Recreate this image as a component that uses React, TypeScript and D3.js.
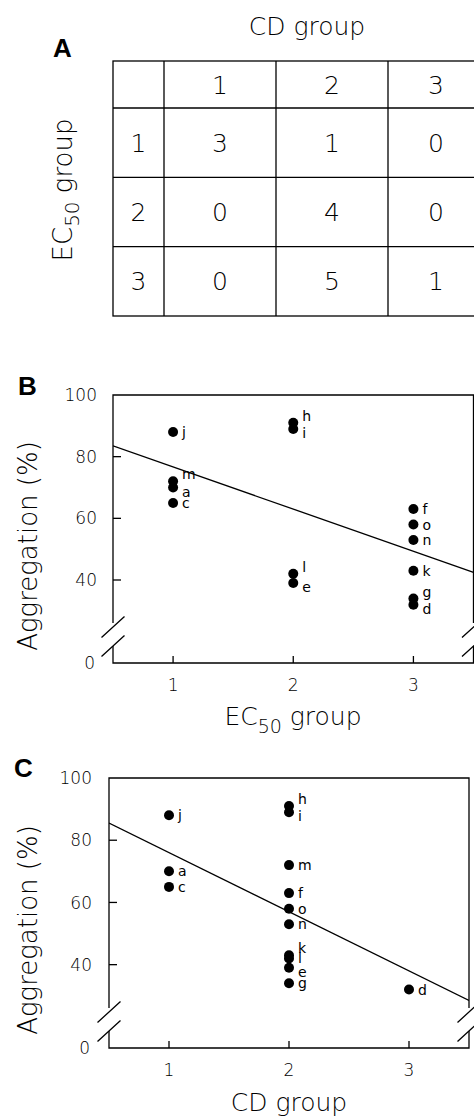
import React from 'react';
import * as d3 from 'd3';

// panel A: contingency table
const cdGroups = ['1', '2', '3'];
const ec50Groups = ['1', '2', '3'];
const counts = [
  [3, 1, 0],
  [0, 4, 0],
  [0, 5, 1],
];

// panels B and C: aggregation (%) per subject letter
const letters = ['a', 'c', 'd', 'e', 'f', 'g', 'h', 'i', 'j', 'k', 'l', 'm', 'n', 'o'];
const aggregation = [70, 65, 32, 39, 63, 34, 91, 89, 88, 43, 42, 72, 53, 58];
const ec50Group = [1, 1, 3, 2, 3, 3, 2, 2, 1, 3, 2, 1, 3, 3];
const cdGroup = [1, 1, 3, 2, 2, 2, 2, 2, 1, 2, 2, 2, 2, 2];

// fitted lines: [x, y] at both ends
const fitB = [[0.5, 83.5], [3.5, 42.5]];
const fitC = [[0.5, 85.5], [3.5, 28.5]];

const xTicks = [1, 2, 3];
const yTicks = [0, 40, 60, 80, 100];

const FONT = '"DejaVu Sans", sans-serif';
const LW = 1.3;

function Scatter({ top, left, right, bottom, groups, fit, title, tickRight }) {
  const x = d3.scaleLinear().domain([0.5, 3.5]).range([left, right]);
  const y = d3.scaleLinear().domain([0, 28, 100]).range([bottom, bottom - 46, top]);
  const pts = letters.map((l, i) => ({ l, g: groups[i], v: aggregation[i] }));
  // label nudges for dots that sit close together
  const shift = (p) => {
    const same = pts.filter((q) => q.g === p.g && q !== p);
    const above = same.some((q) => q.v > p.v && q.v - p.v < 4);
    const below = same.some((q) => q.v < p.v && p.v - q.v < 4);
    if (below && !above) return -7;
    if (above && !below) return 4;
    return 0;
  };
  const line = d3.line().x((d) => x(d[0])).y((d) => y(d[1]));
  const b1 = bottom - 36, b2 = bottom - 17;
  const slash = (cx, cy) => `M${cx - 11.5},${cy + 10.5}L${cx + 11.5},${cy - 10.5}`;
  const id = 'clip' + top;
  return (
    <g>
      <defs>
        <clipPath id={id}>
          <rect x={left} y={top} width={right - left} height={bottom - top} />
        </clipPath>
      </defs>
      <g stroke="#000" strokeWidth={LW} fill="none">
        <path d={`M${left},${b1 - 4}V${top}H${right}V${b1 - 4}`} />
        <path d={`M${left},${b2}V${bottom}H${right}V${b2}`} />
        <path d={slash(left, b1) + slash(left, b2) + slash(right, b1) + slash(right, b2)} />
        {yTicks.filter((t) => t > 0 && t < 100).map((t) => (
          <path key={t} d={`M${left},${y(t)}h8`} />
        ))}
        {xTicks.map((t) => (
          <path key={t} d={`M${x(t)},${bottom}v-7`} />
        ))}
        <path d={line(fit)} clipPath={`url(#${id})`} />
      </g>
      <g fontFamily={FONT} fontWeight={200} fontSize={17} textAnchor="end">
        {yTicks.map((t) => (
          <text key={t} x={t === 0 ? tickRight - 2 : tickRight} y={y(t)} dy="0.36em">{t}</text>
        ))}
      </g>
      <g fontFamily={FONT} fontWeight={200} fontSize={17} textAnchor="middle">
        {xTicks.map((t) => (
          <text key={t} x={x(t)} y={bottom + 28}>{t}</text>
        ))}
      </g>
      {pts.map((p) => (
        <g key={p.l}>
          <circle cx={x(p.g)} cy={y(p.v)} r={5} fill="#000" />
          <text x={x(p.g) + 9} y={y(p.v) + 5 + shift(p)} fill="#000" fontFamily={FONT} fontSize={14}>{p.l}</text>
        </g>
      ))}
      <text transform={`translate(37,${(top + bottom) / 2 + 17}) rotate(-90)`} textAnchor="middle"
        fontFamily={FONT} fontWeight={200} fontSize={26}>Aggregation (%)</text>
      {title}
    </g>
  );
}

export default function App() {
  const col = d3.scaleBand().domain(cdGroups).range([164, 500]);
  const row = d3.scaleBand().domain(ec50Groups).range([108, 316]);
  const tableLeft = 113, tableTop = 61, tableRight = 500;
  return (
    <svg width={474} height={1119} style={{ position: 'absolute', left: 0, top: 0, background: '#fff' }}>
      {/* Panel A */}
      <text x={53} y={57} fontFamily="Liberation Sans, Arial, sans-serif" fontWeight="bold" fontSize={26}>A</text>
      <text x={307} y={35} textAnchor="middle" fontFamily={FONT} fontWeight={200} fontSize={25}>CD  group</text>
      <text transform="translate(72,190) rotate(-90)" textAnchor="middle" fontFamily={FONT} fontWeight={200} fontSize={26}>
        EC<tspan dy={7} fontSize={20}>50</tspan><tspan dy={-7}> group</tspan>
      </text>
      <g stroke="#000" strokeWidth={LW} fill="none">
        <rect x={tableLeft} y={tableTop} width={tableRight - tableLeft} height={316 - tableTop} />
        {cdGroups.map((c) => (
          <path key={c} d={`M${col(c)},${tableTop}V316`} />
        ))}
        {ec50Groups.map((r) => (
          <path key={r} d={`M${tableLeft},${row(r)}H${tableRight}`} />
        ))}
      </g>
      <g fontFamily={FONT} fontWeight={200} fontSize={25} textAnchor="middle">
        {cdGroups.map((c) => (
          <text key={c} x={col(c) + col.bandwidth() / 2 - (c === '3' ? 8 : 0)} y={(tableTop + 108) / 2} dy="0.36em">{c}</text>
        ))}
        {ec50Groups.map((r, i) => (
          <g key={r}>
            <text x={(tableLeft + 164) / 2} y={row(r) + row.bandwidth() / 2} dy="0.36em">{r}</text>
            {counts[i].map((v, j) => (
              <text key={j} x={col(cdGroups[j]) + col.bandwidth() / 2 - (j === 2 ? 8 : 0)} y={row(r) + row.bandwidth() / 2} dy="0.36em">{v}</text>
            ))}
          </g>
        ))}
      </g>

      {/* Panel B */}
      <text x={18} y={395} fontFamily="Liberation Sans, Arial, sans-serif" fontWeight="bold" fontSize={26}>B</text>
      <Scatter top={395} left={113} right={473.5} bottom={663} groups={ec50Group} fit={fitB} tickRight={97}
        title={
          <text x={293} y={725} textAnchor="middle" fontFamily={FONT} fontWeight={200} fontSize={25}>
            EC<tspan dy={8} fontSize={19}>50</tspan><tspan dy={-8}> group</tspan>
          </text>
        } />

      {/* Panel C */}
      <text x={14} y={777} fontFamily="Liberation Sans, Arial, sans-serif" fontWeight="bold" fontSize={26}>C</text>
      <Scatter top={778} left={109} right={469} bottom={1048} groups={cdGroup} fit={fitC} tickRight={92}
        title={
          <text x={289} y={1111} textAnchor="middle" fontFamily={FONT} fontWeight={200} fontSize={25}>CD  group</text>
        } />
    </svg>
  );
}
